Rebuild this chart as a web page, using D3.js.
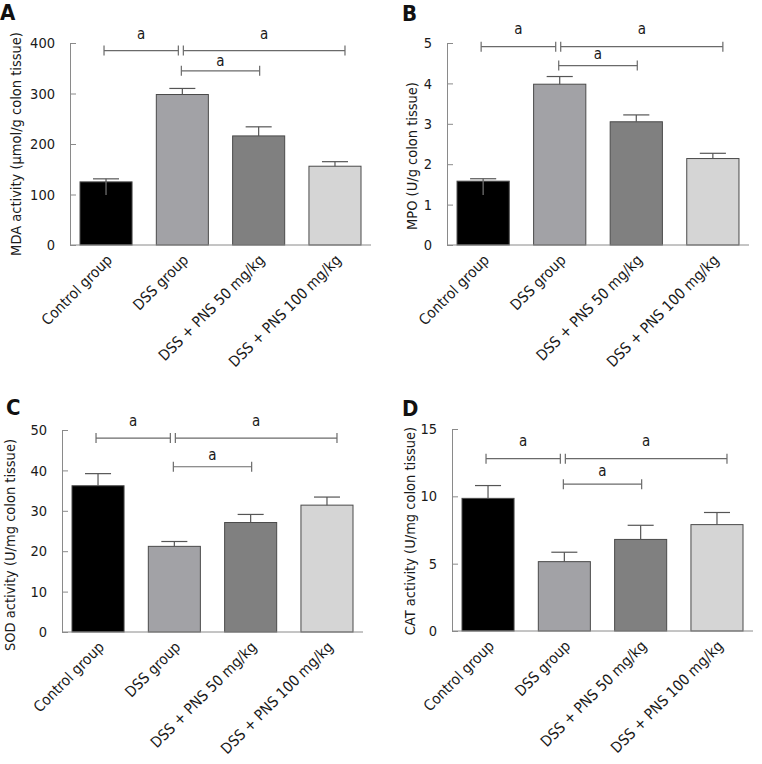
<!DOCTYPE html>
<html><head><meta charset="utf-8">
<script src="https://cdn.jsdelivr.net/npm/d3@7"></script>
<style>
html,body{margin:0;padding:0;background:#fff;}
svg{display:block;}
text{font-family:"DejaVu Sans Condensed","DejaVu Sans",Verdana,sans-serif;font-stretch:condensed;}
</style></head>
<body>
<svg id="chart" width="762" height="764"></svg>
<script>
// ---------- data ----------
const categories = ["Control group", "DSS group", "DSS + PNS 50 mg/kg", "DSS + PNS 100 mg/kg"];

const mdaValues  = [125, 298, 216, 156];
const mdaErrUp   = [6, 12, 18, 9];
const mdaErrDown = [26, 0, 0, 0];
const mdaTicks   = [0, 100, 200, 300, 400];
const mdaBracketLevels = [385, 385, 345];

const mpoValues  = [1.58, 3.98, 3.05, 2.14];
const mpoErrUp   = [0.06, 0.19, 0.17, 0.13];
const mpoErrDown = [0.34, 0, 0, 0];
const mpoTicks   = [0, 1, 2, 3, 4, 5];
const mpoBracketLevels = [4.91, 4.91, 4.44];

const sodValues  = [36.2, 21.2, 27.1, 31.4];
const sodErrUp   = [3.0, 1.2, 2.0, 2.0];
const sodErrDown = [0, 0, 0, 0];
const sodTicks   = [0, 10, 20, 30, 40, 50];
const sodBracketLevels = [48.0, 48.0, 40.9];

const catValues  = [9.85, 5.15, 6.8, 7.9];
const catErrUp   = [0.95, 0.7, 1.05, 0.9];
const catErrDown = [0, 0, 0, 0];
const catTicks   = [0, 5, 10, 15];
const catBracketLevels = [12.8, 12.8, 10.9];

const bracketPairs  = [[0, 1], [1, 3], [1, 2]];
const bracketLabels = ["a", "a", "a"];

// ---------- styles / layout ----------
const FONT = "'DejaVu Sans Condensed', 'DejaVu Sans', Verdana, sans-serif";
const barColors = ["#000000", "#a2a2a6", "#808080", "#d5d5d5"];
const bracketDx = [[-2, -4], [1, 10], [-1, 1]];   // px nudges of bracket ends
const panels = [
  {letter: "A", lx: 0,   ly: 20,  left: 70,  right: 371, top: 43,  bottom: 245, max: 400,
   values: mdaValues, up: mdaErrUp, down: mdaErrDown, ticks: mdaTicks, levels: mdaBracketLevels,
   ylabel: "MDA activity (\u03bcmol/g colon tissue)", ylx: 21, yly: 144, labGap: [12, 12, 5]},
  {letter: "B", lx: 402, ly: 21, left: 447, right: 749, top: 43,  bottom: 245, max: 5,
   values: mpoValues, up: mpoErrUp, down: mpoErrDown, ticks: mpoTicks, levels: mpoBracketLevels,
   ylabel: "MPO (U/g colon tissue)", ylx: 417, yly: 156, labGap: [13, 13, 7]},
  {letter: "C", lx: 6,   ly: 415, left: 62,  right: 363, top: 430, bottom: 632, max: 50,
   values: sodValues, up: sodErrUp, down: sodErrDown, ticks: sodTicks, levels: sodBracketLevels,
   ylabel: "SOD activity (U/mg colon tissue)", ylx: 15, yly: 545, labGap: [12, 12, 7]},
  {letter: "D", lx: 402, ly: 416, left: 452, right: 753, top: 429, bottom: 631, max: 15,
   values: catValues, up: catErrUp, down: catErrDown, ticks: catTicks, levels: catBracketLevels,
   ylabel: "CAT activity (U/mg colon tissue)", ylx: 415, yly: 531, labGap: [13, 13, 8]}
];

const svg = d3.select("#chart");
const axisColor = "#8a8a8a";
const lineColor = "#6a6a6a";

panels.forEach(p => {
  const g = svg.append("g");
  const x = d3.scaleBand().domain(d3.range(categories.length))
    .range([p.left, p.right]).paddingInner(0.318).paddingOuter(0.131);
  const y = d3.scaleLinear().domain([0, p.max]).range([p.bottom, p.top]);
  const bw = x.bandwidth();
  const cx = i => x(i) + bw / 2;

  // bars
  g.selectAll("rect.bar").data(p.values).join("rect")
    .attr("class", "bar")
    .attr("x", (d, i) => x(i)).attr("width", bw)
    .attr("y", d => y(d)).attr("height", d => y(0) - y(d))
    .attr("fill", (d, i) => barColors[i])
    .attr("stroke", "#4a4a4a").attr("stroke-width", 1);

  // error bars
  p.values.forEach((v, i) => {
    const top = y(v + p.up[i]);
    g.append("line").attr("x1", cx(i)).attr("x2", cx(i))
      .attr("y1", y(v)).attr("y2", top).attr("stroke", "#555").attr("stroke-width", 1.2);
    g.append("line").attr("x1", cx(i) - bw / 4).attr("x2", cx(i) + bw / 4)
      .attr("y1", top).attr("y2", top).attr("stroke", "#555").attr("stroke-width", 1.2);
    if (p.down[i] > 0) {
      g.append("line").attr("x1", cx(i)).attr("x2", cx(i))
        .attr("y1", y(v)).attr("y2", y(v - p.down[i])).attr("stroke", "#777").attr("stroke-width", 1.2);
    }
  });

  // y axis
  const ya = d3.axisLeft(y).tickValues(p.ticks).tickSizeInner(-6).tickSizeOuter(0).tickPadding(15)
    .tickFormat(d3.format("d"));
  const yg = g.append("g").attr("transform", `translate(${p.left},0)`).call(ya);
  yg.select(".domain").attr("stroke", axisColor);
  yg.selectAll(".tick line").attr("stroke", axisColor);
  yg.selectAll(".tick text").attr("font-size", 14.5).attr("fill", "#1a1a1a")
    .attr("font-family", FONT);

  // x axis line
  g.append("line").attr("x1", p.left).attr("x2", p.right)
    .attr("y1", p.bottom).attr("y2", p.bottom).attr("stroke", axisColor).attr("stroke-width", 1);

  // x tick labels (rotated)
  categories.forEach((c, i) => {
    const tx = cx(i) + 7, ty = p.bottom + 16;
    g.append("text").attr("transform", `translate(${tx},${ty}) rotate(-45)`)
      .attr("text-anchor", "end").attr("font-size", 15).attr("fill", "#1a1a1a").text(c);
  });

  // y label
  g.append("text").attr("transform", `translate(${p.ylx},${p.yly}) rotate(-90)`)
    .attr("text-anchor", "middle").attr("font-size", 14.5).attr("fill", "#1a1a1a").text(p.ylabel);

  // panel letter
  g.append("text").attr("x", p.lx).attr("y", p.ly).attr("font-size", 22)
    .attr("font-family", "'DejaVu Sans', Verdana, sans-serif").attr("font-stretch", "normal")
    .attr("font-weight", "bold").attr("fill", "#111").text(p.letter);

  // significance brackets
  bracketPairs.forEach((pr, k) => {
    const x1 = cx(pr[0]) + bracketDx[k][0], x2 = cx(pr[1]) + bracketDx[k][1];
    const yy = y(p.levels[k]);
    g.append("line").attr("x1", x1).attr("x2", x2).attr("y1", yy).attr("y2", yy)
      .attr("stroke", lineColor).attr("stroke-width", 1.2);
    [x1, x2].forEach(xe => g.append("line").attr("x1", xe).attr("x2", xe)
      .attr("y1", yy - 5).attr("y2", yy + 5).attr("stroke", lineColor).attr("stroke-width", 1.2));
    g.append("text").attr("x", (x1 + x2) / 2).attr("y", yy - p.labGap[k])
      .attr("text-anchor", "middle").attr("font-size", 15).attr("fill", "#1a1a1a").text(bracketLabels[k]);
  });
});
</script>
</body></html>
